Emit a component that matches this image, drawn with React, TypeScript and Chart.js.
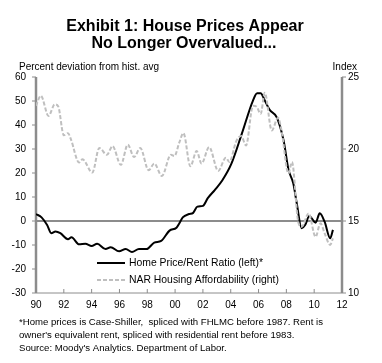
import React, { useEffect, useRef } from "react";
import { Chart, registerables } from "chart.js";

Chart.register(...registerables);

const FONT = '"Liberation Sans", Arial, sans-serif';

const titleLines = ["Exhibit 1: House Prices Appear", "No Longer Overvalued..."];
const leftAxisTitle = "Percent deviation from hist. avg";
const rightAxisTitle = "Index";
const legendLabels = ["Home Price/Rent Ratio (left)*", "NAR Housing Affordability (right)"];
const footnoteLines = [
  "*Home prices is Case-Shiller,  spliced with FHLMC before 1987. Rent is",
  "owner's equivalent rent, spliced with residential rent before 1983.",
  "Source: Moody's Analytics. Department of Labor.",
];

// Home price / rent ratio (left axis, % deviation)
const ratioYears = [
  1990.0, 1990.4, 1990.8, 1991.1, 1991.4, 1991.75, 1992.3, 1992.55, 1993.1, 1993.55,
  1994.0, 1994.4, 1995.0, 1995.37, 1995.97, 1996.45, 1996.9, 1997.4, 1997.95, 1998.5,
  1999.0, 1999.6, 2000.1, 2000.3, 2000.55, 2001.0, 2001.3, 2001.6, 2002.0, 2002.35,
  2002.85, 2003.4, 2004.05, 2004.8, 2005.6, 2005.9, 2006.15, 2006.45, 2006.8, 2007.3,
  2007.8, 2008.15, 2008.5, 2008.75, 2009.1, 2009.35, 2009.65, 2010.1, 2010.4, 2010.75,
  2011.15, 2011.35,
];
const ratioValues = [
  2.9, 1.5, -1.7, -5.1, -4.4, -5.1, -7.6, -6.8, -9.7, -9.5,
  -10.4, -9.5, -11.7, -10.9, -12.6, -11.7, -12.9, -11.7, -11.7, -9.0,
  -8.3, -4.0, -2.8, -1.0, 1.5, 2.9, 3.4, 6.0, 6.3, 9.5,
  12.9, 17.0, 23.9, 36.4, 50.2, 53.2, 53.2, 50.2, 46.3, 43.3,
  33.6, 21.5, 15.6, 7.3, -3.0, -1.7, 2.1, -0.7, 3.2, -0.3,
  -7.2, -3.7,
];

// NAR housing affordability (right axis, index)
const narYears = [
  1990.0, 1990.35, 1990.9, 1991.35, 1991.6, 1992.0, 1992.3, 1992.5, 1993.1, 1993.35,
  1994.05, 1994.55, 1995.1, 1995.5, 1996.1, 1996.6, 1997.05, 1997.5, 1998.1, 1998.5,
  1999.05, 1999.7, 1999.95, 2000.3, 2000.6, 2001.1, 2001.55, 2001.9, 2002.45, 2003.1,
  2003.65, 2003.9, 2004.4, 2004.75, 2005.1, 2005.6, 2005.85, 2006.15, 2006.45, 2006.95,
  2007.4, 2007.65, 2008.15, 2008.4, 2008.85, 2009.1, 2009.6, 2010.1, 2010.45, 2010.75,
  2011.15, 2011.35,
];
const narValues = [
  23.0, 23.7, 22.3, 23.1, 22.95, 20.95, 21.1, 20.7, 19.06, 19.28,
  18.36, 20.07, 19.6, 20.2, 18.9, 20.3, 19.44, 20.07, 18.52, 18.99,
  18.13, 19.6, 19.51, 20.44, 21.1, 18.8, 19.86, 18.99, 20.13, 18.48,
  19.4, 19.1, 20.55, 20.9, 20.25, 23.0, 22.95, 22.44, 23.9, 21.29,
  22.17, 21.29, 18.3, 19.1, 14.95, 14.6, 15.53, 13.9, 14.84, 14.15,
  13.34, 13.8,
];

const leftMin = -30;
const leftMax = 60;
const rightMin = 10;
const rightMax = 25;
const xMin = 1990;
const xMax = 2012;

const line = (ctx: CanvasRenderingContext2D, x1: number, y1: number, x2: number, y2: number) => {
  ctx.beginPath();
  ctx.moveTo(x1, y1);
  ctx.lineTo(x2, y2);
  ctx.stroke();
};

const axesPlugin = {
  id: "customAxes",
  beforeDatasetsDraw(chart: any) {
    const { ctx, chartArea, scales } = chart;
    const { left, right, top, bottom } = chartArea;
    ctx.save();
    ctx.strokeStyle = "#8c8c8c";
    const y0 = scales.y.getPixelForValue(0);
    ctx.lineWidth = 2;
    line(ctx, left, y0, right, y0);
    ctx.lineWidth = 2.5;
    line(ctx, left, top, left, bottom);
    line(ctx, right, top, right, bottom);
    ctx.lineWidth = 1;
    line(ctx, left, bottom, right, bottom);
    scales.y.ticks.forEach((t: any) => {
      const y = scales.y.getPixelForValue(t.value);
      line(ctx, left - 4, y, left, y);
    });
    scales.y1.ticks.forEach((t: any) => {
      const y = scales.y1.getPixelForValue(t.value);
      line(ctx, right, y, right + 4, y);
    });
    scales.x.ticks.forEach((t: any) => {
      const x = scales.x.getPixelForValue(t.value);
      line(ctx, x, bottom, x, bottom - 4);
    });
    ctx.restore();
  },
};

const textPlugin = {
  id: "customText",
  afterDraw(chart: any) {
    const { ctx } = chart;
    ctx.save();
    ctx.fillStyle = "#000";
    ctx.font = `bold 16px ${FONT}`;
    ctx.textAlign = "center";
    ctx.textBaseline = "alphabetic";
    ctx.fillText(titleLines[0], 185, 31);
    ctx.fillText(titleLines[1], 184, 48);
    ctx.font = `10px ${FONT}`;
    ctx.textAlign = "left";
    ctx.fillText(leftAxisTitle, 19, 70);
    ctx.textAlign = "right";
    ctx.fillText(rightAxisTitle, 357, 70);
    // legend
    ctx.textAlign = "left";
    ctx.textBaseline = "middle";
    ctx.font = `10.4px ${FONT}`;
    ctx.strokeStyle = "#000";
    ctx.lineWidth = 2;
    line(ctx, 97, 263, 125, 263);
    ctx.fillText(legendLabels[0], 129, 263);
    ctx.strokeStyle = "#bfbfbf";
    ctx.setLineDash([4, 2]);
    line(ctx, 97, 280, 125, 280);
    ctx.setLineDash([]);
    ctx.fillText(legendLabels[1], 129, 280);
    // footnote
    ctx.font = `9.6px ${FONT}`;
    footnoteLines.forEach((s, i) => ctx.fillText(s, 19, 322 + i * 13));
    ctx.restore();
  },
};

export default function App() {
  const ref = useRef<HTMLCanvasElement | null>(null);
  useEffect(() => {
    if (!ref.current) return;
    const chart = new Chart(ref.current, {
      type: "line",
      data: {
        datasets: [
          {
            label: legendLabels[1],
            data: narYears.map((x, i) => ({ x, y: narValues[i] })),
            yAxisID: "y1",
            borderColor: "#bfbfbf",
            borderWidth: 2,
            borderDash: [4, 2],
            pointRadius: 0,
            cubicInterpolationMode: "monotone",
            fill: false,
          },
          {
            label: legendLabels[0],
            data: ratioYears.map((x, i) => ({ x, y: ratioValues[i] })),
            yAxisID: "y",
            borderColor: "#000",
            borderWidth: 2,
            pointRadius: 0,
            cubicInterpolationMode: "monotone",
            fill: false,
          },
        ],
      },
      options: {
        animation: false,
        responsive: false,
        maintainAspectRatio: false,
        events: [],
        layout: { padding: { top: 77, left: 0, right: 0, bottom: 0 } },
        plugins: { legend: { display: false }, title: { display: false }, tooltip: { enabled: false } },
        scales: {
          x: {
            type: "linear",
            min: xMin,
            max: xMax,
            grid: { display: false, drawTicks: false },
            border: { display: false },
            ticks: {
              stepSize: 2,
              padding: 6,
              color: "#000",
              font: { family: FONT, size: 10 },
              maxRotation: 0,
              autoSkip: false,
              callback: (v: any) => String(Number(v) % 100).padStart(2, "0"),
            },
            afterFit: (s: any) => {
              s.height = 70;
            },
          },
          y: {
            type: "linear",
            position: "left",
            min: leftMin,
            max: leftMax,
            grid: { display: false, drawTicks: false },
            border: { display: false },
            ticks: { stepSize: 10, padding: 10, color: "#000", font: { family: FONT, size: 10 } },
            afterFit: (s: any) => {
              s.width = 36;
            },
          },
          y1: {
            type: "linear",
            position: "right",
            min: rightMin,
            max: rightMax,
            grid: { display: false, drawTicks: false },
            border: { display: false },
            ticks: { stepSize: 5, padding: 6, color: "#000", font: { family: FONT, size: 10 } },
            afterFit: (s: any) => {
              s.width = 40;
            },
          },
        },
      },
      plugins: [axesPlugin, textPlugin],
    } as any);
    return () => chart.destroy();
  }, []);
  return (
    <div style={{ position: "absolute", left: 0, top: 0, width: 382, height: 363, background: "#fff" }}>
      <canvas ref={ref} width={382} height={363} style={{ width: 382, height: 363, display: "block" }} />
    </div>
  );
}
